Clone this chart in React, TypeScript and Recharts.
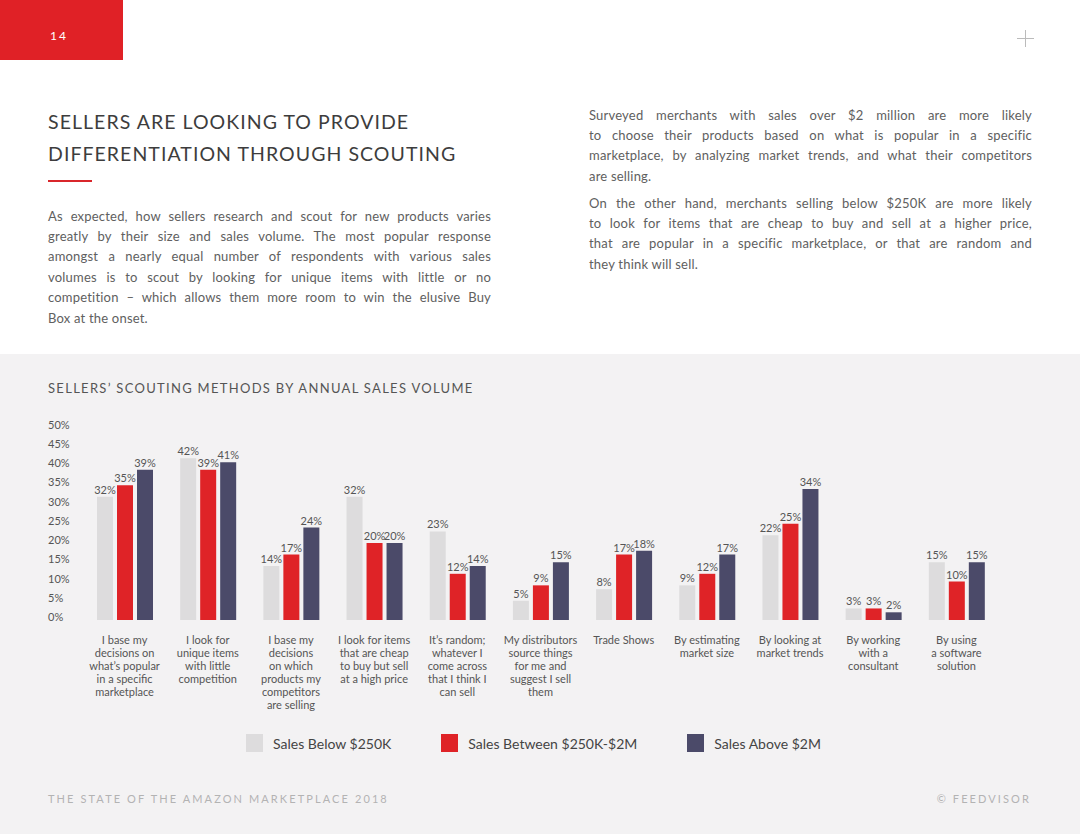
import React from "react";
import { BarChart, Bar, XAxis, YAxis, Legend, LabelList } from "recharts";

// categories on the x axis (line breaks as in the printed labels)
const categories = [
  "I base my\ndecisions on\nwhat’s popular\nin a specific\nmarketplace",
  "I look for\nunique items\nwith little\ncompetition",
  "I base my\ndecisions\non which\nproducts my\ncompetitors\nare selling",
  "I look for items\nthat are cheap\nto buy but sell\nat a high price",
  "It’s random;\nwhatever I\ncome across\nthat I think I\ncan sell",
  "My distributors\nsource things\nfor me and\nsuggest I sell\nthem",
  "Trade Shows",
  "By estimating\nmarket size",
  "By looking at\nmarket trends",
  "By working\nwith a\nconsultant",
  "By using\na software\nsolution",
];

const salesBelow250K = [32, 42, 14, 32, 23, 5, 8, 9, 22, 3, 15];
const salesBetween250K2M = [35, 39, 17, 20, 12, 9, 17, 12, 25, 3, 10];
const salesAbove2M = [39, 41, 24, 20, 14, 15, 18, 17, 34, 2, 15];

const seriesNames = ["Sales Below $250K", "Sales Between $250K-$2M", "Sales Above $2M"];
const yTicks = [0, 5, 10, 15, 20, 25, 30, 35, 40, 45, 50];

const leftParagraph = [
  "As expected, how sellers research and scout for new products varies",
  "greatly by their size and sales volume. The most popular response",
  "amongst a nearly equal number of respondents with various sales",
  "volumes is to scout by looking for unique items with little or no",
  "competition – which allows them more room to win the elusive Buy",
  "Box at the onset.",
];
const rightParagraph1 = [
  "Surveyed merchants with sales over $2 million are more likely",
  "to choose their products based on what is popular in a specific",
  "marketplace, by analyzing market trends, and what their competitors",
  "are selling.",
];
const rightParagraph2 = [
  "On the other hand, merchants selling below $250K are more likely",
  "to look for items that are cheap to buy and sell at a higher price,",
  "that are popular in a specific marketplace, or that are random and",
  "they think will sell.",
];

const FONT = "Lato, 'Open Sans', sans-serif";
const GRAY = "#dddcdd";
const RED = "#df2327";
const NAVY = "#4b4a69";
const TEXT = "#555";

const data = categories.map((name, i) => ({
  name,
  below: salesBelow250K[i],
  between: salesBetween250K2M[i],
  above: salesAbove2M[i],
}));

function CategoryTick(props: any) {
  const { x, y, payload } = props;
  const lines = String(payload.value).split("\n");
  return (
    <text x={x} y={y} textAnchor="middle" fill={TEXT} fontSize={11} fontFamily={FONT}>
      {lines.map((l, i) => (
        <tspan key={i} x={x} dy={i === 0 ? 24 : 13}>
          {l}
        </tspan>
      ))}
    </text>
  );
}

function PercentTick(props: any) {
  const { y, payload } = props;
  return (
    <text x={48} y={y} dy={1} fill={TEXT} fontSize={11} fontFamily={FONT}>
      {payload.value}%
    </text>
  );
}

function SeriesLegend(props: any) {
  const items = [...(props.payload || [])].sort(
    (a: any, b: any) => seriesNames.indexOf(a.value) - seriesNames.indexOf(b.value)
  );
  return (
    <div style={{ display: "flex", alignItems: "center", height: 24, paddingLeft: 246, fontFamily: FONT }}>
      {items.map((p: any, i: number) => (
        <div key={i} style={{ display: "flex", alignItems: "center", marginRight: 50 }}>
          <span style={{ display: "inline-block", width: 17, height: 18, background: p.color, marginRight: 10 }} />
          <span style={{ fontSize: 14, color: "#444" }}>{p.value}</span>
        </div>
      ))}
    </div>
  );
}

function Para({ lines, top, left }: { lines: string[]; top: number; left: number }) {
  return (
    <div style={{ position: "absolute", top, left, width: 443, fontSize: 13, lineHeight: "20.4px", color: "#606060", letterSpacing: 0.2 }}>
      {lines.map((l, i) => (
        <div
          key={i}
          style={{
            whiteSpace: "nowrap",
            textAlign: "justify",
            textAlignLast: i === lines.length - 1 ? "left" : "justify",
          }}
        >
          {l}
        </div>
      ))}
    </div>
  );
}

export default function App() {
  const labelStyle = { fill: TEXT, fontSize: 11, fontFamily: FONT };
  const fmt = (v: any) => `${v}%`;
  return (
    <div style={{ position: "absolute", left: 0, top: 0, width: 1080, height: 834, background: "#fff", fontFamily: FONT, overflow: "hidden" }}>
      {/* page number box */}
      <div style={{ position: "absolute", left: 0, top: 0, width: 123, height: 60, background: "#e02126" }} />
      <div style={{ position: "absolute", left: 50, top: 28, fontSize: 12, color: "#fff", letterSpacing: 2, lineHeight: "16px" }}>14</div>
      {/* plus mark */}
      <div style={{ position: "absolute", left: 1017, top: 38, width: 17, height: 1, background: "#bbb" }} />
      <div style={{ position: "absolute", left: 1025, top: 30, width: 1, height: 17, background: "#bbb" }} />

      <div style={{ position: "absolute", left: 48, top: 105.5, fontSize: 19.5, lineHeight: "32px", letterSpacing: 1.05, color: "#3d3d3d" }}>
        <div>SELLERS ARE LOOKING TO PROVIDE</div>
        <div>DIFFERENTIATION THROUGH SCOUTING</div>
      </div>
      <div style={{ position: "absolute", left: 48, top: 180, width: 44, height: 2, background: "#d9262b" }} />

      <Para lines={leftParagraph} top={205.5} left={48} />
      <Para lines={rightParagraph1} top={104.5} left={589} />
      <Para lines={rightParagraph2} top={192.5} left={589} />

      {/* gray panel */}
      <div style={{ position: "absolute", left: 0, top: 354, width: 1080, height: 480, background: "#f3f2f3" }} />
      <div style={{ position: "absolute", left: 48, top: 380, fontSize: 13, lineHeight: "16px", letterSpacing: 1.3, color: TEXT }}>
        SELLERS’ SCOUTING METHODS BY ANNUAL SALES VOLUME
      </div>

      <div style={{ position: "absolute", left: 0, top: 400 }}>
        <BarChart
          width={1080}
          height={370}
          data={data}
          margin={{ top: 27.5, right: 82, bottom: 15, left: 0 }}
          barSize={16}
          barGap={4}
        >
          <XAxis
            dataKey="name"
            axisLine={false}
            tickLine={false}
            tickSize={0}
            tickMargin={0}
            interval={0}
            height={111}
            tick={<CategoryTick />}
          />
          <YAxis
            domain={[0, 50]}
            ticks={yTicks}
            interval={0}
            axisLine={false}
            tickLine={false}
            width={83}
            tick={<PercentTick />}
          />
          <Legend verticalAlign="bottom" content={<SeriesLegend />} wrapperStyle={{ left: 0, width: 1080 }} />
          <Bar dataKey="below" name={seriesNames[0]} fill={GRAY} isAnimationActive={false}>
            <LabelList dataKey="below" position="top" offset={3} formatter={fmt} style={labelStyle} />
          </Bar>
          <Bar dataKey="between" name={seriesNames[1]} fill={RED} isAnimationActive={false}>
            <LabelList dataKey="between" position="top" offset={3} formatter={fmt} style={labelStyle} />
          </Bar>
          <Bar dataKey="above" name={seriesNames[2]} fill={NAVY} isAnimationActive={false}>
            <LabelList dataKey="above" position="top" offset={3} formatter={fmt} style={labelStyle} />
          </Bar>
        </BarChart>
      </div>

      <div style={{ position: "absolute", left: 48, top: 791, fontSize: 11, lineHeight: "16px", letterSpacing: 2.1, color: "#b3b3b3" }}>
        THE STATE OF THE AMAZON MARKETPLACE 2018
      </div>
      <div style={{ position: "absolute", right: 49, top: 791, fontSize: 11, lineHeight: "16px", letterSpacing: 2.1, color: "#b3b3b3" }}>
        © FEEDVISOR
      </div>
    </div>
  );
}
